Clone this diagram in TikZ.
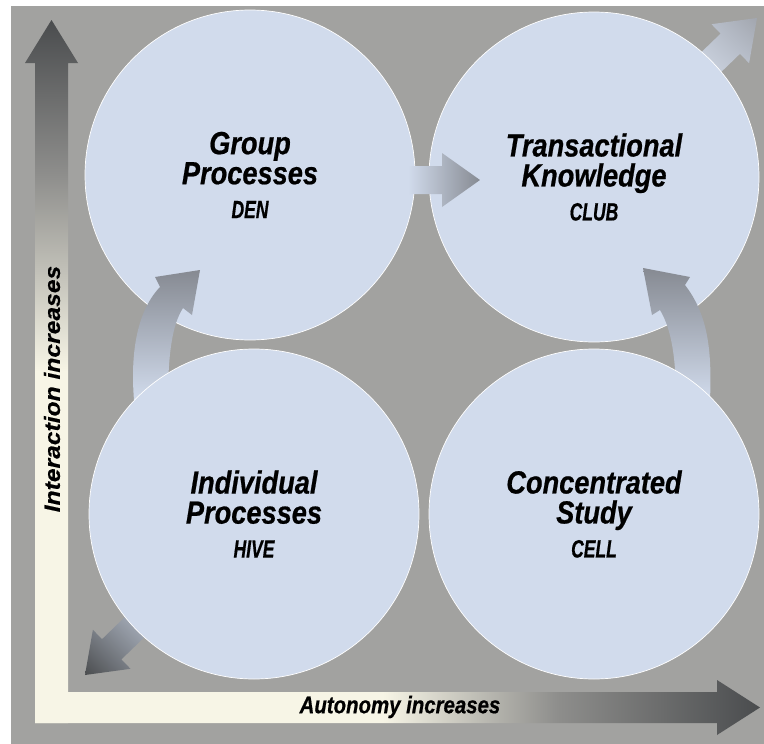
\documentclass[tikz,border=0pt]{standalone}
\usepackage{fontspec}
\usepackage{graphicx}
\usepackage{tikz}
\usetikzlibrary{positioning,shadings}
\newfontfamily\quadfont{Liberation Sans}[FakeStretch=0.85,FakeBold=0.6]
\newfontfamily\subfont{Liberation Sans}[FakeStretch=0.70,FakeBold=0.6]
\newfontfamily\ylabelfont{Liberation Sans}[FakeStretch=1.12,FakeBold=0.4]
\newcommand\quadsub{\subfont\fontsize{25}{24}\selectfont}
\definecolor{bggray}{HTML}{A2A2A0}
\definecolor{disc}{HTML}{D1DBEC}
\definecolor{axcream}{HTML}{F7F5E6}
\definecolor{axmid}{HTML}{8E8E8C}
\definecolor{axdark}{HTML}{4A4C4E}
\definecolor{headgray}{HTML}{868A92}
\definecolor{tipgray}{HTML}{A2A6AE}
\pgfdeclarehorizontalshading{axisfade}{100bp}{color(0bp)=(axcream); color(25bp)=(axcream); color(49bp)=(axcream); color(61bp)=(axmid); color(75bp)=(axdark); color(100bp)=(axdark)}
\pgfdeclarehorizontalshading{axisfadev}{100bp}{color(0bp)=(axcream); color(25bp)=(axcream); color(50bp)=(axcream); color(64bp)=(axmid); color(75bp)=(axdark); color(100bp)=(axdark)}

\begin{document}
\begin{tikzpicture}[x=1pt,y=-1pt,
	quad/.style={circle,fill=disc,draw=white,line width=0.7pt,minimum size=330pt,inner sep=0pt,align=center,
		font=\quadfont\bfseries\itshape\fontsize{32}{30}\selectfont},
	axistext/.style={font=\quadfont\bfseries\itshape\fontsize{24}{28}\selectfont}]
	\useasboundingbox (0,0) rectangle (764,744);
	\fill [white] (0,0) rectangle (764,744);
	\fill [bggray] (11,6) rectangle (764,744);
	\shade [shading=axisfadev,shading angle=90] (35,723) -- (35,63) -- (25,63) -- (51.5,20) -- (78,63) -- (68,63) -- (68,723) -- cycle;
	\shade [shading=axisfade] (35,692) -- (717,692) -- (717,680) -- (760,707.5) -- (717,735) -- (717,723) -- (35,723) -- cycle;
	\shade [lower left=disc!60!white,upper right=tipgray,upper left=disc!80!tipgray,lower right=disc!80!tipgray]
		(668.0,84.4) -- (720.6,33.6) -- (711.5,24.2) -- (757,18) -- (749.1,63.2) -- (740.0,53.8) -- (687.4,104.6) -- cycle;
	\shade [lower left=axdark,upper right=disc,upper left=disc!60!axdark,lower right=disc!60!axdark]
		(154.6,588.4) -- (102.0,639.2) -- (92.9,629.8) -- (85,675) -- (130.5,668.8) -- (121.4,659.4) -- (174.0,608.6) -- cycle;
	\node [quad] (den) at (250,175) {Group\\Processes\\[4pt]{\quadsub DEN}};
	\node [quad] (club) at (594,177) {Transactional\\Knowledge\\[4pt]{\quadsub CLUB}};
	\shade [left color=disc,right color=headgray] (408,166) -- (442,166) -- (442,153) -- (480,180) -- (442,207) -- (442,194) -- (408,194) -- cycle;
	\shade [top color=headgray,bottom color=disc] (134,400) .. controls (130,350) and (138,310) .. (160,287) -- (155,277) -- (200,270) -- (192,315) -- (183,308) .. controls (172,325) and (168,355) .. (168,400) -- cycle;
	\shade [top color=headgray,bottom color=disc] (710,400) .. controls (712,350) and (708,315) .. (685,285) -- (690,277) -- (643,268) -- (652,315) -- (660,310) .. controls (672,330) and (676,360) .. (676,400) -- cycle;
	\node [quad] (hive) at (254,514) {Individual\\Processes\\[4pt]{\quadsub HIVE}};
	\node [quad] (cell) at (594,514) {Concentrated\\Study\\[4pt]{\quadsub CELL}};
	\node [axistext,font=\ylabelfont\bfseries\itshape\fontsize{22}{26}\selectfont,rotate=90] (ylabel) at (52,389) {Interaction increases};
	\node [axistext] (xlabel) at (400,707) {Autonomy increases};
\end{tikzpicture}
\end{document}
